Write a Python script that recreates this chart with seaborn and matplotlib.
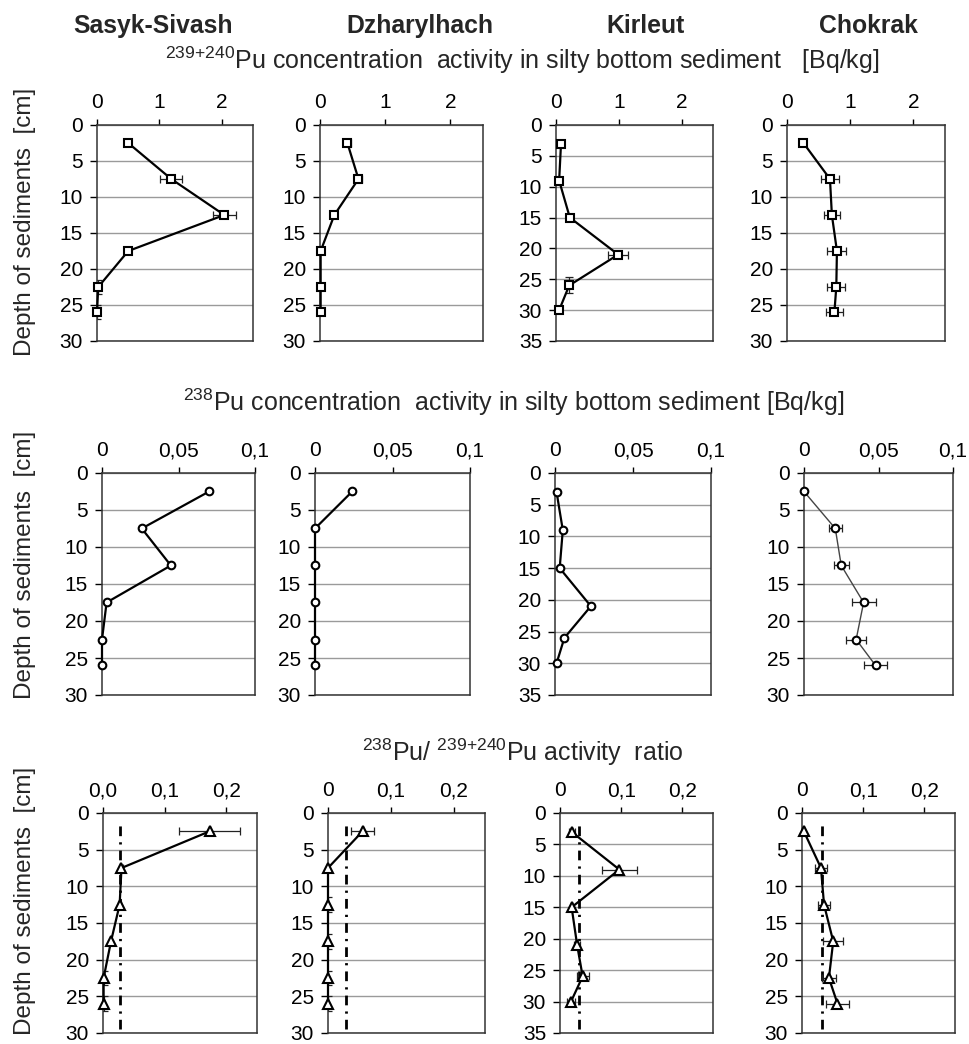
import matplotlib
matplotlib.use('Agg')
import matplotlib.pyplot as plt
import seaborn as sns
import pandas as pd
from matplotlib.ticker import FuncFormatter, MultipleLocator

# Sites (columns)
sites = ['Sasyk-Sivash', 'Dzharylhach', 'Kirleut', 'Chokrak']

# Depth of the sampled layers [cm]
depth_std = [2.5, 7.5, 12.5, 17.5, 22.5, 26]
depth_kir = [3, 9, 15, 21, 26, 30]

# 239+240Pu concentration activity [Bq/kg]
pu239_sas = [0.50, 1.19, 2.04, 0.50, 0.02, 0.00]
pu239_sas_xerr = [0, 0.18, 0.18, 0.03, 0, 0]
pu239_sas_yerr = [0, 0, 0, 0, 1.0, 1.0]
pu239_dzh = [0.42, 0.59, 0.22, 0.01, 0.01, 0.01]
pu239_dzh_xerr = [0.05, 0.06, 0, 0, 0, 0]
pu239_kir = [0.08, 0.05, 0.22, 0.99, 0.21, 0.05]
pu239_kir_xerr = [0, 0, 0, 0.16, 0, 0.04]
pu239_kir_yerr = [0, 0, 0, 0, 1.3, 0]
pu239_cho = [0.26, 0.68, 0.71, 0.79, 0.78, 0.75]
pu239_cho_xerr = [0, 0.14, 0.13, 0.15, 0.14, 0.14]

# 238Pu concentration activity [Bq/kg]
pu238_sas = [0.070, 0.026, 0.045, 0.003, 0.000, 0.000]
pu238_dzh = [0.024, 0.000, 0.000, 0.000, 0.000, 0.000]
pu238_kir = [0.001, 0.005, 0.003, 0.023, 0.006, 0.001]
pu238_cho = [0.000, 0.021, 0.025, 0.040, 0.035, 0.048]
pu238_cho_xerr = [0, 0.0045, 0.005, 0.008, 0.0065, 0.008]

# 238Pu / 239+240Pu activity ratio
ratio_sas = [0.173, 0.030, 0.027, 0.013, 0.001, 0.001]
ratio_sas_xerr = [0.05, 0.003, 0.003, 0, 0, 0]
ratio_sas_yerr = [0, 0, 0, 0, 1.0, 1.0]
ratio_dzh = [0.055, 0.000, 0.000, 0.000, 0.000, 0.000]
ratio_dzh_xerr = [0.018, 0, 0, 0, 0, 0]
ratio_dzh_yerr = [0, 0, 1.0, 1.0, 1.0, 1.0]
ratio_kir = [0.019, 0.097, 0.019, 0.028, 0.037, 0.018]
ratio_kir_xerr = [0.005, 0.028, 0, 0.005, 0.01, 0.006]
ratio_cho = [0.003, 0.031, 0.036, 0.051, 0.044, 0.058]
ratio_cho_xerr = [0, 0.01, 0.01, 0.016, 0.012, 0.018]
# global fallout reference ratio (dash-dot line)
ratio_ref = [0.027, 0.028, 0.031, 0.033]

row_titles = [r'$\mathregular{^{239{+}240}}$Pu concentration  activity in silty bottom sediment   [Bq/kg]',
              r'$\mathregular{^{238}}$Pu concentration  activity in silty bottom sediment [Bq/kg]',
              r'$\mathregular{^{238}}$Pu/ $\mathregular{^{239{+}240}}$Pu activity  ratio']

zeros = [0] * 6
panels = [
    [(pu239_sas, depth_std, pu239_sas_xerr, pu239_sas_yerr),
     (pu239_dzh, depth_std, pu239_dzh_xerr, zeros),
     (pu239_kir, depth_kir, pu239_kir_xerr, pu239_kir_yerr),
     (pu239_cho, depth_std, pu239_cho_xerr, zeros)],
    [(pu238_sas, depth_std, zeros, zeros),
     (pu238_dzh, depth_std, zeros, zeros),
     (pu238_kir, depth_kir, zeros, zeros),
     (pu238_cho, depth_std, pu238_cho_xerr, zeros)],
    [(ratio_sas, depth_std, ratio_sas_xerr, ratio_sas_yerr),
     (ratio_dzh, depth_std, ratio_dzh_xerr, ratio_dzh_yerr),
     (ratio_kir, depth_kir, ratio_kir_xerr, zeros),
     (ratio_cho, depth_std, ratio_cho_xerr, zeros)],
]

# layout in pixels of the reference
W, H = 969, 1044
row_tb = [(125, 341), (473, 695), (813, 1033)]
col_lr = [[(97, 253), (320, 483), (556, 713), (787, 945)],
          [(102, 255), (315, 470), (555, 711), (804, 953)],
          [(103, 257), (328, 485), (560, 713), (802, 955)]]
row_xlim = [(0, 2.5), (0, 0.1), (0, 0.25)]
row_xstep = [1, 0.05, 0.1]
row_marker = ['s', 'o', '^']
row_ms = [6, 5.5, 6.5]
title_xy = [(522, 60), (514, 402), (523, 752)]
ylabel_y = [222, 565, 901]

sns.set_style('ticks')
plt.rcParams['font.family'] = ['Liberation Sans', 'DejaVu Sans']
plt.rcParams['mathtext.fontset'] = 'custom'
plt.rcParams['mathtext.rm'] = 'Liberation Sans'

fig = plt.figure(figsize=(W / 100, H / 100), dpi=100)

comma = FuncFormatter(lambda v, p: ('%g' % round(v, 3)).replace('.', ','))
comma1 = FuncFormatter(lambda v, p: ('%.1f' % v).replace('.', ','))

for r in range(3):
    t, b = row_tb[r]
    for c in range(4):
        l, rr = col_lr[r][c]
        ax = fig.add_axes([l / W, 1 - b / H, (rr - l) / W, (b - t) / H])
        x, y, xe, ye = panels[r][c]
        df = pd.DataFrame({'value': x, 'depth': y})

        lw = 1.6
        lc = 'black'
        if r == 1 and c == 3:
            lw, lc = 1.0, '#444444'

        # error bars
        xi = [i for i in range(6) if xe[i] > 0]
        if xi:
            ax.errorbar([x[i] for i in xi], [y[i] for i in xi], xerr=[xe[i] for i in xi],
                        fmt='none', ecolor='#222222', elinewidth=0.9, capsize=3, capthick=0.9, zorder=2)
        yi = [i for i in range(6) if ye[i] > 0]
        if yi:
            ax.errorbar([x[i] for i in yi], [y[i] for i in yi], yerr=[ye[i] for i in yi],
                        fmt='none', ecolor='#222222', elinewidth=0.9, capsize=3, capthick=0.9, zorder=2)

        sns.lineplot(data=df, x='value', y='depth', sort=False, estimator=None, orient='y',
                     color=lc, lw=lw, marker=row_marker[r], markersize=row_ms[r],
                     markerfacecolor='white', markeredgecolor='black', markeredgewidth=1.5,
                     ax=ax, zorder=3, clip_on=False)

        if r == 2:
            ax.axvline(ratio_ref[c], ymin=0.02, ymax=0.97, color='black', lw=2,
                       dashes=(3.5, 2.2, 0.8, 2.2), zorder=1)

        ymax = 35 if c == 2 else 30
        ax.set_ylim(ymax, 0)
        ax.set_xlim(*row_xlim[r])
        ax.yaxis.set_major_locator(MultipleLocator(5))
        ax.xaxis.set_major_locator(MultipleLocator(row_xstep[r]))
        ax.xaxis.set_major_formatter(comma1 if (r == 2 and c == 0) else comma)
        ax.xaxis.tick_top()
        ax.tick_params(axis='both', direction='out', labelsize=15, colors='black', width=1)
        ax.tick_params(axis='x', length=4, pad=5)
        ax.tick_params(axis='y', length=5, pad=5)
        ax.yaxis.grid(True, color='#9a9a9a', lw=1)
        ax.set_axisbelow(True)
        for s in ax.spines.values():
            s.set_visible(True)
            s.set_color('#333333')
            s.set_linewidth(1.1)
        ax.set_xlabel('')
        ax.set_ylabel('')

    fig.text(title_xy[r][0] / W, 1 - title_xy[r][1] / H, row_titles[r],
             ha='center', va='center', fontsize=18)
    fig.text(25 / W, 1 - ylabel_y[r] / H, 'Depth of sediments  [cm]', rotation=90,
             ha='center', va='center', fontsize=17.5)

title_x = [153, 420, 646, 868]
for c in range(4):
    fig.text(title_x[c] / W, 1 - 26 / H, sites[c], ha='center', va='center',
             fontsize=17.8, fontweight='bold')

fig.savefig('out.png', dpi=100)
